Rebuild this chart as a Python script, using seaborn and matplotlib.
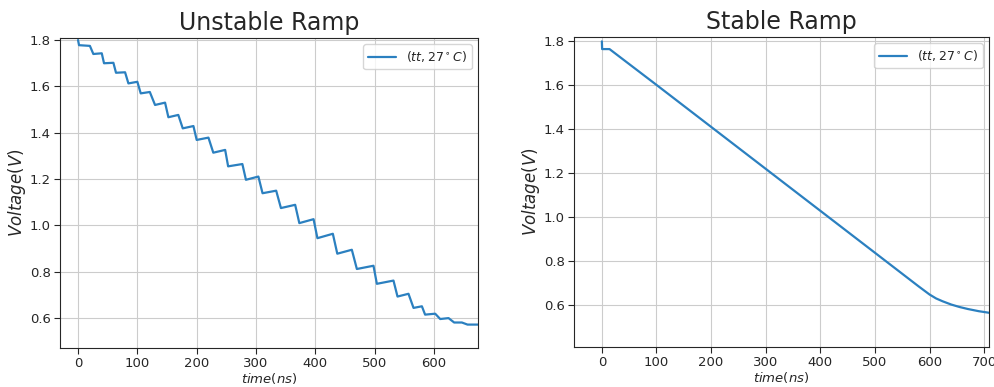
import matplotlib
matplotlib.use("Agg")
import matplotlib.pyplot as plt
import seaborn as sns
import pandas as pd

# ---- data ----
unstable_t = [0, 1.7, 20, 25.8, 40, 43.8, 59.6, 64, 79.3, 84.9, 100, 105.7, 121,
              129.8, 146.7, 152.3, 169, 176.5, 194.5, 200, 219.8, 228, 248,
              253, 277, 283, 304, 311, 334, 342, 366, 373, 397, 403.5, 429.5,
              437, 461.5, 470, 498, 503.7, 531.7, 538.5, 557, 565.5, 579.6,
              585, 602, 610.5, 624.5, 634, 647, 656.5, 674.5]
unstable_v = [1.800, 1.778, 1.775, 1.740, 1.743, 1.700, 1.702, 1.659, 1.661,
              1.613, 1.620, 1.570, 1.576, 1.520, 1.530, 1.467, 1.477, 1.419,
              1.429, 1.369, 1.379, 1.314, 1.326, 1.255, 1.265, 1.197, 1.211,
              1.139, 1.150, 1.075, 1.089, 1.010, 1.027, 0.945, 0.964, 0.878,
              0.895, 0.812, 0.826, 0.748, 0.762, 0.693, 0.705, 0.644, 0.651,
              0.615, 0.619, 0.596, 0.600, 0.581, 0.581, 0.572, 0.572]

stable_t = [0, 0.5, 14, 100, 200, 300, 400, 500, 580, 600, 612, 624, 640, 655,
            670, 690, 711]
stable_v = [1.800, 1.765, 1.765, 1.602, 1.411, 1.220, 1.029, 0.838, 0.685,
            0.648, 0.630, 0.617, 0.602, 0.591, 0.582, 0.572, 0.564]

legend_label = r"$(tt, 27^\circ C)$"
titles = ["Unstable Ramp", "Stable Ramp"]
yticks = [0.6, 0.8, 1.0, 1.2, 1.4, 1.6, 1.8]
xticks_left = [0, 100, 200, 300, 400, 500, 600]
xticks_right = [0, 100, 200, 300, 400, 500, 600, 700]

sns.set_style("ticks", {"axes.grid": True, "grid.color": ".8",
                        "axes.edgecolor": ".15"})
plt.rcParams["font.family"] = ["DejaVu Sans"]

fig = plt.figure(figsize=(9.95, 3.87), dpi=100)
ax1 = fig.add_axes([0.0603, 0.1008, 0.4200, 0.8010])
ax2 = fig.add_axes([0.5769, 0.1034, 0.4171, 0.8010])

color = "#2b80c0"
df1 = pd.DataFrame({"t": unstable_t, "v": unstable_v})
df2 = pd.DataFrame({"t": stable_t, "v": stable_v})

sns.lineplot(data=df1, x="t", y="v", ax=ax1, color=color, lw=1.6,
             estimator=None, sort=False, label=legend_label)
sns.lineplot(data=df2, x="t", y="v", ax=ax2, color=color, lw=1.6,
             estimator=None, sort=False, label=legend_label)

for ax, title, xt, xlim, ylim in [
    (ax1, titles[0], xticks_left, (-30.4, 674), (0.471, 1.809)),
    (ax2, titles[1], xticks_right, (-51, 709), (0.409, 1.82)),
]:
    ax.set_title(title, fontsize=17)
    ax.set_xlabel(r"$time(ns)$", fontsize=9.5, labelpad=1)
    ax.set_ylabel(r"$Voltage(V)$", fontsize=12, labelpad=1)
    ax.set_xticks(xt)
    ax.set_yticks(yticks)
    ax.set_xlim(*xlim)
    ax.set_ylim(*ylim)
    ax.tick_params(labelsize=9.5, length=4, pad=2.5, colors=".15")
    ax.legend(loc="upper right", fontsize=9, handlelength=2.2)
    for s in ax.spines.values():
        s.set_visible(True)
        s.set_color(".15")

fig.savefig("out.png", dpi=100)
